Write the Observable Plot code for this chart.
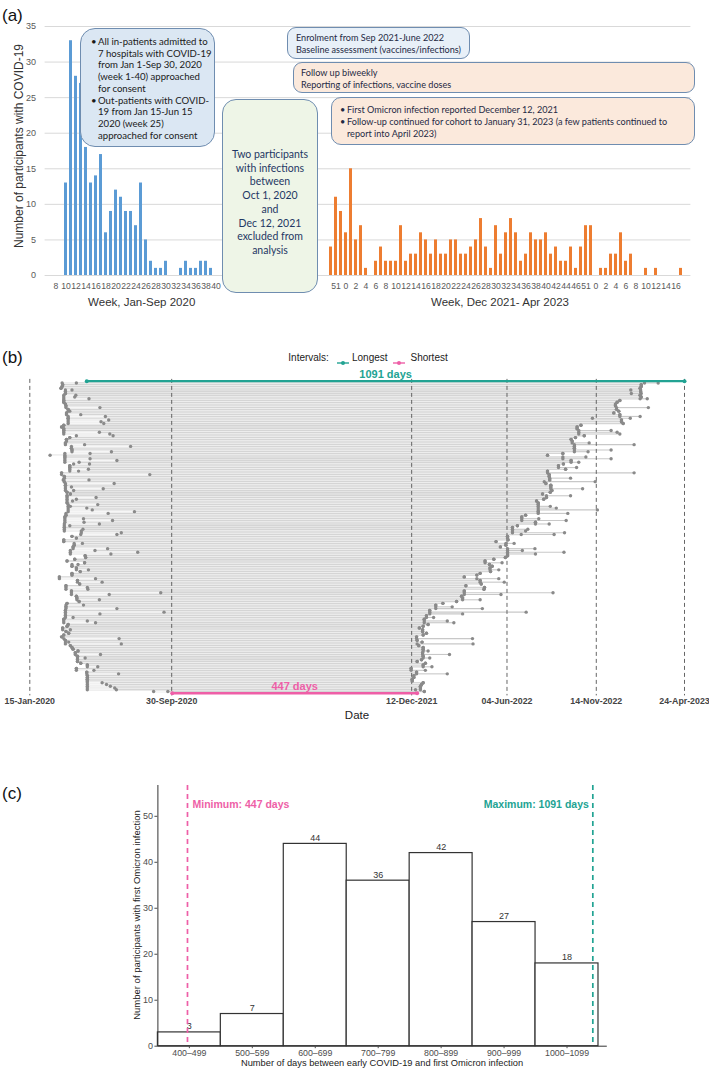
<!DOCTYPE html>
<html><head><meta charset="utf-8">
<script src="https://cdn.jsdelivr.net/npm/d3@7"></script>
<script src="https://cdn.jsdelivr.net/npm/@observablehq/plot@0.6"></script>
<style>
body{margin:0;background:#fff;}
#root{position:relative;width:709px;height:1069px;overflow:hidden;font-family:"Liberation Sans",Arial,sans-serif;}
.t{position:absolute;white-space:nowrap;line-height:1;}
.box{position:absolute;box-sizing:border-box;border:1px solid #6f8db0;font-family:Lato,"Open Sans",sans-serif;color:#1a1a1a;white-space:nowrap;}
.bl{position:relative;}
.bl::before{content:"\2022";position:absolute;left:-7px;}
.panel{position:absolute;left:0;}
</style></head><body><div id="root"></div>
<script>
const NA = null;
// ---------- Panel (a) data ----------
const weeks2020 = [8,9,10,11,12,13,14,15,16,17,18,19,20,21,22,23,24,25,26,27,28,29,30,31,32,33,34,35,36,37,38,39,40];
const cases2020 = [0,0,13,33,28,27,18,13,14,17,6,9,12,11,9,9,7,13,5,2,1,1,2,0,0,1,2,1,1,2,2,1,0];
const weeksOmicron = ["50","51","52","0","1","2","3","4","5","6","7","8","9","10","11","12","13","14","15","16","17","18","19","20","21","22","23","24","25","26","27","28","29","30","31","32","33","34","35","36","37","38","39","40","41","42","43","44","45","46","47","51","52","0","1","2","3","4","5","6","7","8","9","10","11","12","13","14","15","16","17"];
const casesOmicron = [4,11,9,6,15,5,7,1,0,2, 4,2,2,2,7,2,3,3,6,5, 3,5,3,3,5,5,3,3,4,5, 8,4,1,7,3,6,8,6,2,3, 6,5,5,6,3,4,2,2,4,1, 4,7,7,0,1,1,3,3,6,2, 3,0,0,1,0,1,0,0,0,0, 1];
const yTicksA = [0,5,10,15,20,25,30,35];
const gapSlots = 22;

// ---------- Panel (b) data: day numbers counted from 1 Jan 2020 ----------
const earlyFirst = [
73,74,73,71,79,79,79,76,76,76, 76,76,79,80,80,84,84,81,81,84,
84,84,84,84,76,72,76,76,76,76, 99,87,81,81,79,79,90,90,91,91,
78,51,78,78,78,78,94,87,87,87, 87,72,72,77,77,75,77,79,79,79,
79,79,82,88,82,82,82,82,82,84, 84,84,84,84,80,80,78,78,78,78,
77,77,77,77,77,108,107,91,99,76, 76,95,95,93,93,88,88,88,115,116,
96,82,114,91,91,99,99,106,91,91, 68,68,101,101,105,80,80,80,90,90,
90,99,100,100,104,82,80,80,80,79, 79,79,79,79,76,76,76,84,82,74,
74,80,85,76,72,76,79,79,79,88, 91,93,102,97,97,101,101,101,101,107,
119,119,99,99,118,118,119,119,119,119, 119,119,119,119,119,240];
const earlySecond = [
99,NA,NA,NA,91,NA,NA,98,96,122, NA,NA,NA,NA,142,NA,87,NA,107,152,
NA,158,144,149,NA,NA,NA,NA,141,160, 166,NA,NA,NA,NA,114,198,NA,NA,163,
124,78,NA,124,173,104,123,NA,NA,121, 103,NA,233,NA,NA,122,NA,168,NA,90,
148,94,NA,NA,NA,135,99,92,NA,138, 88,118,128,205,157,NA,NA,112,165,113,
141,87,NA,111,108,181,173,NA,NA,NA, NA,110,NA,NA,156,133,211,162,NA,NA,
NA,NA,NA,102,NA,NA,121,NA,NA,NA, NA,134,NA,146,NA,NA,119,120,NA,253,
159,NA,NA,141,NA,NA,112,NA,173,NA, 259,142,NA,93,NA,119,134,NA,NA,NA,
88,NA,NA,NA,NA,177,NA,85,181,NA, NA,NA,NA,NA,143,NA,115,NA,NA,NA,
NA,138,NA,131,NA,176,NA,NA,NA,NA, 146,154,161,169,172,266];
const omicronFirst = [
1136,1130,1130,1128,1111,1129,1112,1128,1130,1128, 1091,1086,1083,1083,1085,1085,1089,1080,1091,1091,
1041,1094,1094,1097,1020,1013,1013,1016,1016,1016, 1026,1010,1002,1004,1004,1008,1008,1008,1008,1008,
987,959,987,987,1002,1002,988,979,979,992, 959,959,962,962,963,963,953,956,965,965,
965,967,964,950,957,957,952,939,942,942, 942,942,942,942,942,919,912,912,912,937,
937,904,895,895,895,895,911,886,886,887, 865,883,883,873,886,886,886,886,886,882,
861,845,845,853,858,854,854,855,836,830, 807,830,836,836,838,810,844,843,807,807,
807,802,804,804,793,768,755,755,755,744, 744,744,738,738,734,734,734,741,732,725,
731,731,738,732,720,720,721,730,721,724, 732,732,732,731,731,732,732,729,721,736,
732,732,710,710,720,720,715,715,712,712, 732,729,727,727,718,734];
const omicronSecond = [
1161,NA,NA,NA,1129,NA,1130,NA,NA,1141, NA,NA,NA,NA,1143,NA,NA,NA,NA,1128,
1110,NA,NA,NA,NA,NA,NA,1075,1086,1091, NA,NA,NA,NA,1035,1117,NA,NA,1075,1033,
NA,NA,1029,1075,NA,1016,NA,NA,1012,NA, NA,1117,NA,NA,1001,NA,1046,NA,NA,NA,
1023,NA,NA,NA,1001,NA,NA,NA,NA,NA, 964,975,1050,NA,996,NA,NA,943,993,NA,
962,NA,NA,923,919,990,971,NA,NA,NA, NA,898,NA,NA,936,913,989,937,NA,NA,
NA,NA,876,NA,NA,NA,870,NA,NA,NA, NA,870,NA,880,NA,NA,NA,NA,NA,969,
874,NA,NA,836,NA,NA,NA,785,840,NA, 920,804,NA,751,NA,776,788,NA,NA,NA,
NA,NA,NA,NA,NA,822,NA,NA,823,NA, NA,NA,741,NA,780,NA,744,NA,NA,NA,
NA,748,NA,736,NA,776,NA,NA,NA,NA, NA,NA,NA,NA,727,NA];
const longest = {start:"2020-04-28", end:"2023-04-24", days:1091};
const shortest = {start:"2020-10-01", end:"2021-12-22", days:447};
const refDates = ["2020-01-15","2020-09-30","2021-12-12","2022-06-04","2022-11-14","2023-04-24"];
const refLabels = ["15-Jan-2020","30-Sep-2020","12-Dec-2021","04-Jun-2022","14-Nov-2022","24-Apr-2023"];

// ---------- Panel (c) data ----------
const binStart = [400,500,600,700,800,900,1000];
const binLabels = ["400\u2013499","500\u2013599","600\u2013699","700\u2013799","800\u2013899","900\u2013999","1000\u20131099"];
const binCounts = [3,7,44,36,42,27,18];
const yTicksC = [0,10,20,30,40,50];

const teal = "#22a393", pink = "#ee5fa7";
const root = document.getElementById("root");
const font = "'Liberation Sans', Arial, sans-serif";

function txt(s, x, y, o = {}) {
  const d = document.createElement("div");
  d.className = "t";
  d.textContent = s;
  d.style.left = x + "px"; d.style.top = y + "px";
  d.style.fontSize = (o.size || 10) + "px";
  d.style.color = o.color || "#222";
  if (o.weight) d.style.fontWeight = o.weight;
  const ax = o.anchor === "start" ? "0" : o.anchor === "end" ? "-100%" : "-50%";
  d.style.transform = `translate(${ax},-50%)` + (o.rotate ? ` rotate(${o.rotate}deg)` : "");
  root.appendChild(d);
  return d;
}
function box(html, x, y, w, h, fill, o = {}) {
  const d = document.createElement("div");
  d.className = "box";
  Object.assign(d.style, {left:x+"px", top:y+"px", width:w+"px", height:h+"px", background:fill,
    borderRadius:(o.radius||10)+"px", padding:o.pad||"0", fontSize:(o.size||9.5)+"px",
    lineHeight:(o.lh||12)+"px", textAlign:o.align||"left", color:o.color||"#1a1a1a"});
  d.innerHTML = html;
  root.appendChild(d);
}
function place(svg, top) {
  svg.classList.add("panel");
  svg.style.top = top + "px";
  root.appendChild(svg);
}

// ---------- Panel (a) ----------
const keysL = weeks2020.map((w, i) => "a" + i);
const keysG = Array.from({length: gapSlots}, (v, i) => "g" + i);
const keysR = weeksOmicron.map((w, i) => "b" + i);
const labelOf = new Map([...weeks2020.map((w, i) => ["a" + i, String(w)]), ...weeksOmicron.map((w, i) => ["b" + i, w])]);
const tickKeys = [...keysL.filter((k, i) => weeks2020[i] % 2 === 0), ...keysR.filter((k, i) => i % 2 === 1)];
const barsL = weeks2020.map((w, i) => ({key: "a" + i, v: cases2020[i]})).filter(d => d.v > 0);
const barsR = weeksOmicron.map((w, i) => ({key: "b" + i, v: casesOmicron[i]})).filter(d => d.v > 0);

const plotA = Plot.plot({
  width: 709, height: 310, marginTop: 26, marginBottom: 35, marginLeft: 44.6, marginRight: 18.6,
  x: {type: "band", domain: [...keysL, ...keysG, ...keysR], paddingInner: 0.42, paddingOuter: 0.21, label: null},
  y: {domain: [0, 35], label: null},
  style: {fontFamily: font, fontSize: "9px", color: "#595959", background: "transparent"},
  marks: [
    Plot.ruleY(yTicksA, {stroke: "#d9d9d9", strokeWidth: 1}),
    Plot.barY(barsL, {x: "key", y: "v", fill: "#5b9bd5"}),
    Plot.barY(barsR, {x: "key", y: "v", fill: "#ed7d31"}),
    Plot.axisY(yTicksA, {tickSize: 0, tickPadding: 9, fontSize: 9, label: null}),
    Plot.axisX(tickKeys, {tickSize: 0, tickPadding: 7, fontSize: 8.6, label: null, tickFormat: k => labelOf.get(k)})
  ]
});
place(plotA, 0);

txt("(a)", 2, 15, {size: 17, anchor: "start", color: "#111"});
txt("Number of participants with COVID-19", 19, 146, {size: 12, rotate: -90, color: "#333"});
txt("Week, Jan-Sep 2020", 141.7, 303, {size: 11.5, color: "#333"});
txt("Week, Dec 2021- Apr 2023", 500, 303, {size: 11.5, color: "#333"});

box(`<div class="bl">All in-patients admitted to<br>7 hospitals with COVID-19<br>from Jan 1-Sep 30, 2020<br>(week 1-40) approached<br>for consent</div><div class="bl">Out-patients with COVID-<br>19 from Jan 15-Jun 15<br>2020 (week 25)<br>approached for consent</div>`,
  80, 28, 135, 119, "#dbe7f3", {radius: 15, pad: "7px 0 0 17px", size: 9.6, lh: 11.7});
box(`Two participants<br>with infections<br>between<br>Oct 1, 2020<br>and<br>Dec 12, 2021<br>excluded from<br>analysis`,
  222, 99, 96, 194, "#eef5e7", {radius: 14, pad: "48px 0 0 0", size: 10.5, lh: 13.7, align: "center", color: "#1f3864"});
box(`Enrolment from Sep 2021-June 2022<br>Baseline assessment (vaccines/infections)`,
  287, 27, 183, 32, "#e8f0f8", {radius: 9, pad: "3.5px 0 0 8px", size: 9.1, lh: 12.6, color: "#1f2a44"});
box(`Follow up biweekly<br>Reporting of infections, vaccine doses`,
  293, 62, 402, 31, "#fbe9dc", {radius: 9, pad: "3.5px 0 0 7px", size: 9.1, lh: 12.3, color: "#1f2a44"});
box(`<div class="bl">First Omicron infection reported December 12, 2021</div><div class="bl">Follow-up continued for cohort to January 31, 2023 (a few patients continued to<br>report into April 2023)</div>`,
  331, 97, 364, 48, "#fbe9dc", {radius: 10, pad: "6px 0 0 15px", size: 9.1, lh: 11.8, color: "#1f2a44"});

// ---------- Panel (b) ----------
const day0 = Date.UTC(2020, 0, 1);
const toDate = d => new Date(day0 + d * 864e5);
const rowsB = earlyFirst.map((e, i) => ({
  row: i + 1,
  e1: toDate(e), e2: toDate(earlySecond[i] ?? e),
  o1: toDate(omicronFirst[i]), o2: toDate(omicronSecond[i] ?? omicronFirst[i])
}));
const lastRow = rowsB.length + 1;
const hi = [
  {row: 0, s: new Date(longest.start), e: new Date(longest.end), c: teal, label: longest.days + " days"},
  {row: lastRow, s: new Date(shortest.start), e: new Date(shortest.end), c: pink, label: shortest.days + " days"}
];
const refD = refDates.map(d => new Date(d));
const refMap = new Map(refD.map((d, i) => [+d, refLabels[i]]));
const dotsB = rowsB.flatMap(r => [{row: r.row, x: r.e1}, {row: r.row, x: r.e2}, {row: r.row, x: r.o1}, {row: r.row, x: r.o2}]);

const plotB = Plot.plot({
  width: 709, height: 400, marginTop: 48.9, marginBottom: 34.6, marginLeft: 29.3, marginRight: 25,
  x: {type: "utc", domain: [refD[0], refD[refD.length - 1]], label: null},
  y: {domain: [lastRow + 1.5, -1], axis: null},
  style: {fontFamily: font, fontSize: "9px", color: "#444", background: "transparent"},
  marks: [
    Plot.ruleY(rowsB, {y: "row", x1: "e1", x2: "o1", stroke: "#d5d5d5", strokeWidth: 1.3}),
    Plot.ruleY(rowsB, {y: "row", x1: "e1", x2: "e2", stroke: "#f6f6f6", strokeWidth: 1.3}),
    Plot.ruleY(rowsB, {y: "row", x1: "o1", x2: "o2", stroke: "#c8c8c8", strokeWidth: 1.1}),
    Plot.ruleX(refD, {stroke: "#555", strokeWidth: 0.9, strokeDasharray: "4,3"}),
    Plot.dot(dotsB, {x: "x", y: "row", r: 1.7, fill: "#8a8a8a"}),
    Plot.ruleY(hi, {y: "row", x1: "s", x2: "e", stroke: "c", strokeWidth: 2.4}),
    Plot.dot(hi.flatMap(h => [{row: h.row, x: h.s, c: h.c}, {row: h.row, x: h.e, c: h.c}]), {x: "x", y: "row", r: 2, fill: "c"}),
    Plot.text(hi, {x: d => new Date((+d.s + +d.e) / 2), y: "row", text: "label", fill: "c", fontWeight: "bold", fontSize: 11, dy: -7}),
    Plot.axisX(refD, {tickSize: 0, tickPadding: 2, fontSize: 8.8, fontWeight: "bold", label: null, tickFormat: d => refMap.get(+d)})
  ]
});
place(plotB, 330);

txt("(b)", 2, 357, {size: 17, anchor: "start", color: "#111"});
txt("Intervals:", 288.3, 358.3, {size: 10, anchor: "start", color: "#222"});
function legendIcon(x, color) {
  const d = document.createElement("div");
  d.className = "t";
  d.style.left = x + "px"; d.style.top = "354.3px";
  d.innerHTML = `<svg width="12" height="8"><line x1="0" x2="12" y1="4" y2="4" stroke="${color}" stroke-width="1.4"/><circle cx="6" cy="4" r="2" fill="${color}"/></svg>`;
  root.appendChild(d);
}
legendIcon(337, teal);
txt("Longest", 352, 358.3, {size: 10, anchor: "start", color: "#222"});
legendIcon(393, pink);
txt("Shortest", 410.5, 358.3, {size: 10, anchor: "start", color: "#222"});
txt("Date", 357, 716, {size: 11.5, color: "#222"});

// ---------- Panel (c) ----------
const bins = binStart.map((s, i) => ({start: s, end: s + 100, mid: s + 50, count: binCounts[i], label: binLabels[i]}));
const midMap = new Map(bins.map(b => [b.mid, b.label]));
const plotC = Plot.plot({
  width: 709, height: 309, marginTop: 25, marginBottom: 23.3, marginLeft: 157.4, marginRight: 102.2,
  x: {domain: [400, 1114], label: null},
  y: {domain: [0, 56.7], label: null},
  style: {fontFamily: font, fontSize: "9px", color: "#4d4d4d", background: "transparent"},
  marks: [
    Plot.rectY(bins, {x1: "start", x2: "end", y: "count", fill: "white", stroke: "#333", strokeWidth: 1.2}),
    Plot.text(bins, {x: "mid", y: "count", text: d => String(d.count), dy: -6, fontSize: 9, fill: "#333"}),
    Plot.ruleX([shortest.days], {stroke: pink, strokeWidth: 1.7, strokeDasharray: "5,4"}),
    Plot.ruleX([longest.days], {stroke: teal, strokeWidth: 1.7, strokeDasharray: "5,4"}),
    Plot.ruleY([0], {stroke: "#333", strokeWidth: 1}),
    Plot.ruleX([400], {stroke: "#333", strokeWidth: 1}),
    Plot.axisY(yTicksC, {tickSize: 3, tickPadding: 2, fontSize: 9, label: null}),
    Plot.axisX(bins.map(b => b.mid), {tickSize: 2.5, tickPadding: 1, fontSize: 8.8, label: null, tickFormat: d => midMap.get(d)}),
    Plot.text([`Minimum: ${shortest.days} days`], {x: shortest.days, frameAnchor: "top", dx: 5, dy: 15, textAnchor: "start", fill: pink, fontWeight: "bold", fontSize: 10.5}),
    Plot.text([`Maximum: ${longest.days} days`], {x: longest.days, frameAnchor: "top", dx: -4, dy: 15, textAnchor: "end", fill: teal, fontWeight: "bold", fontSize: 10.5})
  ]
});
place(plotC, 760);

txt("(c)", 2, 793, {size: 17, anchor: "start", color: "#111"});
txt("Number of participants with first Omicron infection", 137, 915, {size: 9.5, rotate: -90, color: "#222"});
txt("Number of days between early COVID-19 and first Omicron infection", 382, 1064, {size: 9.3, color: "#222"});
</script></body></html>
